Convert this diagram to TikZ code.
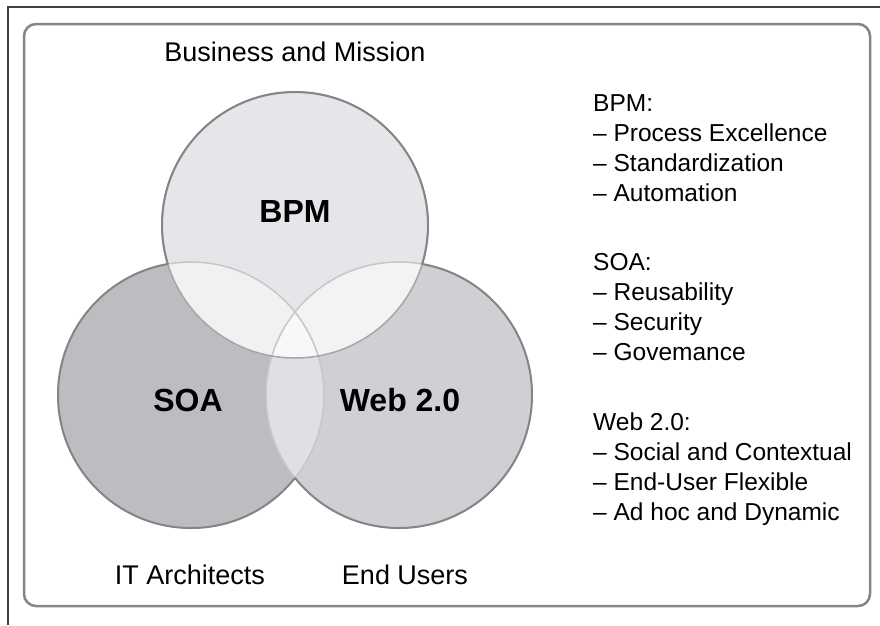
\documentclass[tikz,border=0pt]{standalone}
\usepackage{fontspec}
\setmainfont{Liberation Sans}

\definecolor{bpmfill}{HTML}{E4E6E9}
\definecolor{soafill}{HTML}{BBBDC0}
\definecolor{webfill}{HTML}{CED0D3}
\definecolor{bpmsoa}{HTML}{F1F1F2}
\definecolor{bpmweb}{HTML}{F3F3F4}
\definecolor{soaweb}{HTML}{DEE0E3}
\definecolor{midfill}{HTML}{F8F8F8}
\definecolor{rimgray}{HTML}{858585}

\begin{document}
\begin{tikzpicture}[x=1pt,y=-1pt,
    label/.style={font=\fontsize{27}{30}\selectfont},
    title/.style={font=\fontsize{32}{36}\selectfont\bfseries},
    item/.style={anchor=base west,inner sep=0pt,font=\fontsize{24.5}{30}\selectfont}]
        % Background
        \useasboundingbox (0,0) rectangle (880,625);
        \draw[draw=none,fill=white] (0,0) rectangle (880,625);
        \draw[line width=1.2pt,black!75] (8,625) -- (8,7) -- (880,7);
        \draw[line width=2.5pt,rimgray,rounded corners=12pt] (24,24) rectangle (870,606);

        % Circles
        \coordinate (bpm) at (295,225);
        \coordinate (soa) at (191,395);
        \coordinate (web) at (399,395);
        \fill[bpmfill] (bpm) circle (133pt);
        \fill[soafill] (soa) circle (133pt);
        \fill[webfill] (web) circle (133pt);
        \begin{scope}
            \clip (soa) circle (133pt);
            \fill[soaweb] (web) circle (133pt);
        \end{scope}
        \begin{scope}
            \clip (bpm) circle (133pt);
            \fill[bpmsoa] (soa) circle (133pt);
            \fill[bpmweb] (web) circle (133pt);
            \clip (soa) circle (133pt);
            \fill[midfill] (web) circle (133pt);
        \end{scope}

        % Outlines
        \foreach \c in {soa,web} {
            \draw[line width=1.5pt,black!22] (\c) circle (133pt);
        }
        \draw[line width=1.5pt,black!35] (bpm) circle (133pt);
        \foreach \c/\p/\q in {bpm/soa/web,soa/bpm/web,web/bpm/soa} {
            \begin{scope}[even odd rule]
                \clip (-10,-10) rectangle (890,635) (\p) circle (133pt);
                \clip (-10,-10) rectangle (890,635) (\q) circle (133pt);
                \draw[line width=2pt,rimgray] (\c) circle (133pt);
            \end{scope}
        }

        % Labels
        \node[label] (business) at (295,52) {Business and Mission};
        \node[label] (itarch) at (190,575) {IT Architects};
        \node[label] (endusers) at (405,575) {End Users};
        \node[title] (bpmtitle) at (295,211) {BPM};
        \node[title] (soatitle) at (188,400) {SOA};
        \node[title] (webtitle) at (400,400) {Web 2.0};

        % Lists
        \foreach \txt [count=\i] in {BPM:,-- Process Excellence,-- Standardization,-- Automation}
            \node[item] (bpmitem\i) at (593,81+30*\i) {\txt};
        \foreach \txt [count=\i] in {SOA:,-- Reusability,-- Security,-- Govemance}
            \node[item] (soaitem\i) at (593,240+30*\i) {\txt};
        \foreach \txt [count=\i] in {Web 2.0:,-- Social and Contextual,-- End-User Flexible,-- Ad hoc and Dynamic}
            \node[item] (webitem\i) at (593,400+30*\i) {\txt};

    \end{tikzpicture}
\end{document}
